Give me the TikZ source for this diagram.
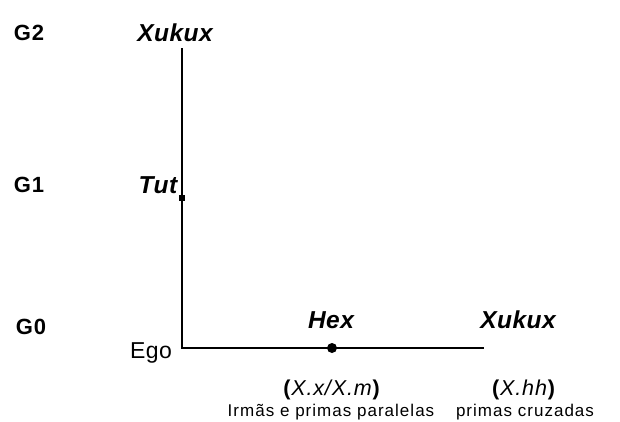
\documentclass[tikz,border=0pt]{standalone}
\usepackage{fontspec}
\setmainfont{Liberation Sans}
\newfontfamily\lsA[LetterSpace=2]{Liberation Sans}
\newfontfamily\lsB[LetterSpace=4]{Liberation Sans}
\newfontfamily\lsC[LetterSpace=6]{Liberation Sans}
\begin{document}
\begin{tikzpicture}[x=1pt,y=-1pt,
  gen/.style={font=\lsB\fontsize{22}{25}\selectfont\bfseries},
  kin/.style={font=\lsA\fontsize{24.5}{28}\selectfont\bfseries\itshape},
  code/.style={font=\lsB\fontsize{21.5}{24}\selectfont},
  gloss/.style={font=\lsC\fontsize{17}{20}\selectfont},
  egostyle/.style={font=\lsA\fontsize{23}{26}\selectfont},
  line/.style={line width=1.2pt}]
\path[use as bounding box, fill=white] (0,0) rectangle (620,421);
% generation labels
\node[gen] (g2) at (29,33) {G2};
\node[gen] (g1) at (29,185) {G1};
\node[gen] (g0) at (31,327) {G0};
% kin terms
\node[kin] (xuk1) at (175,33) {Xukux};
\node[kin] (tut) at (158,185) {Tut};
\node[kin] (hex) at (331,320) {Hex};
\node[kin] (xuk2) at (518,320) {Xukux};
\node[egostyle] (ego) at (151,353) {Ego};
% axes
\coordinate (top) at (182,48);
\coordinate (corner) at (182,348);
\coordinate (right) at (484,348);
\draw[line] (top) -- (corner) -- (right);
\node[fill=black, minimum size=6pt, inner sep=0pt] (sq) at (182,198) {};
\node[circle, fill=black, minimum size=10pt, inner sep=0pt] (dot) at (332,348) {};
% codes
\node[code] (c1) at (332,390) {\textbf{(}\textit{X.x/X.m}\textbf{)}};
\node[code] (c2) at (524,390) {\textbf{(}\textit{X.hh}\textbf{)}};
\node[gloss] (l1) at (331,412) {Irmãs e primas paralelas};
\node[gloss] (l2) at (525,412) {primas cruzadas};
\end{tikzpicture}
\end{document}
